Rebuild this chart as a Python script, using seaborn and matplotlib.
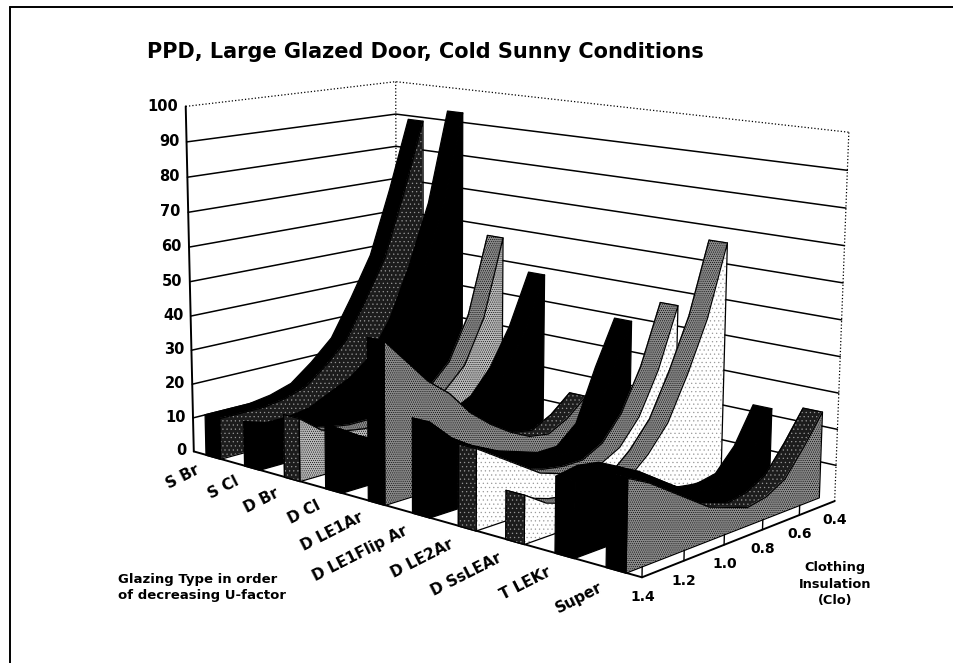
import numpy as np
import seaborn as sns
import matplotlib
matplotlib.use("Agg")
import matplotlib.pyplot as plt
from matplotlib.lines import Line2D
from mpl_toolkits.mplot3d.art3d import Poly3DCollection

glazing_types = ["S Br", "S Cl", "D Br", "D Cl", "D LE1Ar", "D LE1Flip Ar",
                 "D LE2Ar", "D SsLEAr", "T LEKr", "Super"]
clothing = [0.4, 0.5, 0.6, 0.7, 0.8, 0.9, 1.0, 1.1, 1.2, 1.3, 1.4]
clothing_ticks = [0.4, 0.6, 0.8, 1.0, 1.2, 1.4]
ppd_ticks = [0, 10, 20, 30, 40, 50, 60, 70, 80, 90, 100]

s_br = [89, 68, 49, 37, 26, 20, 15, 13, 12, 12, 12]
s_cl = [93, 66, 48, 33, 23, 18, 15, 12, 11, 11, 13]
d_br = [57, 34, 21, 15, 12, 11, 10, 10, 11, 13, 18]
d_cl = [48, 33, 22, 15, 12, 10, 9, 10, 11, 14, 18]
d_le1ar = [14, 9, 6, 7, 10, 14, 19, 26, 31, 38, 45]
d_le1flip = [39, 26, 11, 6, 6, 8, 10, 13, 16, 20, 26]
d_le2ar = [46, 29, 17, 10, 7, 7, 8, 10, 14, 18, 22]
d_sslear = [66, 46, 32, 20, 13, 8, 6, 6, 7, 9, 13]
t_lekr = [22, 12, 6, 5, 6, 9, 13, 17, 20, 21, 20]
super_glz = [24, 16, 9, 6, 5, 7, 9, 13, 17, 21, 24]
ppd = [s_br, s_cl, d_br, d_cl, d_le1ar, d_le1flip, d_le2ar, d_sslear, t_lekr, super_glz]

BLACK, DARK, MID, LIGHT, PALE = "#000000", "#1c1c1c", "#8a8a8a", "#b9b9b9", "#ffffff"
top_colors = [BLACK, BLACK, MID, BLACK, DARK, BLACK, MID, MID, BLACK, DARK]
wall_colors = [DARK, BLACK, LIGHT, BLACK, MID, BLACK, PALE, PALE, BLACK, MID]
cap_colors = [BLACK, BLACK, DARK, BLACK, BLACK, BLACK, DARK, DARK, BLACK, BLACK]
half_width = 0.19

sns.set_theme(style="white", rc={"font.family": "DejaVu Sans", "hatch.linewidth": 0.4})

fig = plt.figure(figsize=(9.54, 6.63), dpi=100, facecolor="white")
ax = fig.add_axes([18.3 / 954, 22.4 / 663, 1, 1], projection="3d")
ax.computed_zorder = False
ax.set_xlim(-0.5, 9.5)
ax.set_ylim(1.4, 0.4)
ax.set_zlim(0, 100)
ax.view_init(elev=12.082, azim=-48.75, roll=-0.3639)
ax.set_proj_type("persp", focal_length=0.6297)
ax.set_box_aspect((1.6368, 0.8431, 1.0), zoom=1.1183)


def add_face(verts, color, zorder):
    # dither of the scanned fill, then the black outline
    if color == DARK:
        fill = Poly3DCollection([verts], facecolors=color, edgecolors="#999999",
                                linewidths=0, hatch="....", zorder=zorder)
    elif color in (MID, LIGHT):
        fill = Poly3DCollection([verts], facecolors=color, edgecolors="black",
                                linewidths=0, hatch="........", zorder=zorder)
    elif color == PALE:
        fill = Poly3DCollection([verts], facecolors=color, edgecolors="#999999",
                                linewidths=0, hatch="....", zorder=zorder)
    else:
        fill = Poly3DCollection([verts], facecolors=color, edgecolors=color,
                                linewidths=0, zorder=zorder)
    outline = Poly3DCollection([verts], facecolors=(0, 0, 0, 0), edgecolors="black",
                               linewidths=0.9, zorder=zorder)
    for poly in (fill, outline):
        poly.set_clip_on(False)
        ax.add_collection3d(poly, autolim=False)


# walls: solid lines at each tick, dotted top and corners
for tick in ppd_ticks[1:-1]:
    ax.plot([-0.5, -0.5, 9.5], [1.4, 0.4, 0.4], [tick, tick, tick], color="black", lw=1.1,
            zorder=1, clip_on=False)
ax.plot([-0.5, -0.5, 9.5], [1.4, 0.4, 0.4], [100, 100, 100], color="black", lw=0.9, ls=":",
        zorder=1, clip_on=False)
ax.plot([-0.5, -0.5], [0.4, 0.4], [0, 100], color="black", lw=0.9, ls=":", zorder=1, clip_on=False)
ax.plot([9.5, 9.5], [0.4, 0.4], [0, 100], color="black", lw=0.9, ls=":", zorder=1, clip_on=False)

# short upright tick marks along the clothing axis
for c in clothing_ticks[1:]:
    ax.plot([9.5, 9.5], [c, c], [0, 4], color="black", lw=1.0, zorder=2, clip_on=False)

for i, values in enumerate(ppd):
    x0, x1 = i - half_width, i + half_width
    ys = np.array(clothing)
    zs = np.array(values, float)
    n = len(ys)
    top = list(zip([x0] * n, ys, zs)) + list(zip([x1] * n, ys[::-1], zs[::-1]))
    wall = list(zip([x1] * n, ys, zs)) + [(x1, ys[-1], 0), (x1, ys[0], 0)]
    cap = [(x0, ys[-1], 0), (x1, ys[-1], 0), (x1, ys[-1], zs[-1]), (x0, ys[-1], zs[-1])]
    add_face(top, top_colors[i], 10 + 3 * i)
    add_face(wall, wall_colors[i], 11 + 3 * i)
    add_face(cap, cap_colors[i], 12 + 3 * i)

for axis in (ax.xaxis, ax.yaxis, ax.zaxis):
    axis.set_pane_color((1, 1, 1, 1))
    axis.pane.set_edgecolor("none")
    axis.line.set_color("black")
    axis.line.set_linewidth(1.4)
    axis._axinfo["tick"].update(inward_factor=0, outward_factor=0)
ax.grid(False)

ax.set_xticks(range(len(glazing_types)))
ax.set_xticklabels(glazing_types, rotation=27, ha="right", va="bottom", rotation_mode="anchor",
                   fontsize=11, fontweight="bold", color="black")
ax.set_yticks(clothing_ticks)
ax.set_yticklabels(["%.1f" % c for c in clothing_ticks], fontsize=10, fontweight="bold",
                   color="black", ha="right")
ax.set_zticks(ppd_ticks)
ax.set_zticklabels([str(t) for t in ppd_ticks], fontsize=10.5, fontweight="bold", color="black",
                   ha="right", va="center")
ax.zaxis.set_ticks_position("upper")
ax.tick_params(axis="x", pad=4)
ax.tick_params(axis="y", pad=-2)
ax.tick_params(axis="z", pad=-5)

fig.text(147 / 954, 1 - 52 / 663, "PPD, Large Glazed Door, Cold Sunny Conditions",
         fontsize=15, fontweight="bold", va="center", color="black")
fig.text(118 / 954, 1 - 588 / 663, "Glazing Type in order\nof decreasing U-factor",
         fontsize=9.5, fontweight="bold", va="center", linespacing=1.3, color="black")
fig.text(835 / 954, 1 - 584 / 663, "Clothing\nInsulation\n(Clo)",
         fontsize=9.3, fontweight="bold", va="center", ha="center", linespacing=1.35, color="black")

fig.add_artist(Line2D([10 / 954, 10 / 954], [0, 1 - 7 / 663], color="black", lw=1.4))
fig.add_artist(Line2D([10 / 954, 1], [1 - 7 / 663, 1 - 7 / 663], color="black", lw=1.4))

fig.savefig("out.png", dpi=100)
